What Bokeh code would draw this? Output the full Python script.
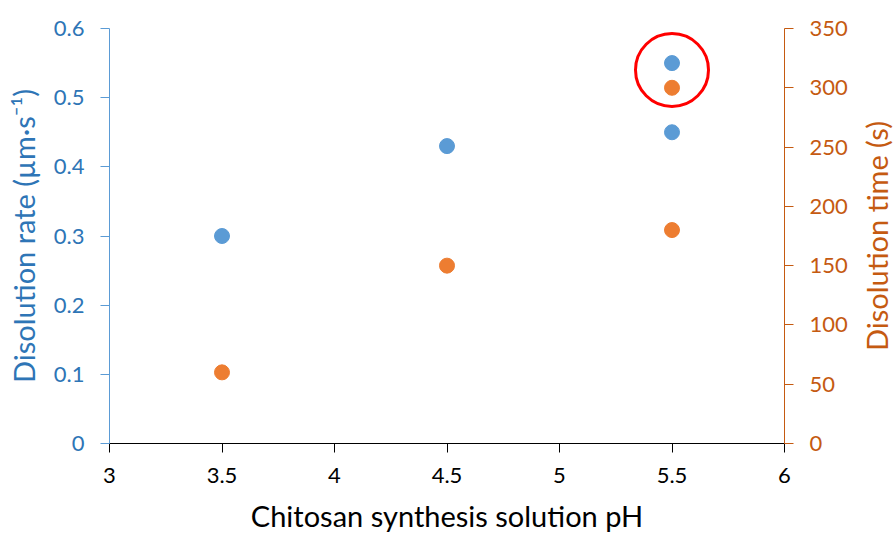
from math import pi
from bokeh.plotting import figure
from bokeh.models import Range1d, LinearAxis, FixedTicker, Label
from bokeh.layouts import row
from bokeh.embed import file_html
from bokeh.resources import INLINE

# data
ph_rate = [3.5, 4.5, 5.5, 5.5]
rate = [0.30, 0.43, 0.55, 0.45]
ph_time = [3.5, 4.5, 5.5, 5.5]
time_s = [60, 150, 300, 180]
highlight_x = [5.5]
highlight_y = [0.54]

x_ticks = [3, 3.5, 4, 4.5, 5, 5.5, 6]
left_ticks = [0, 0.1, 0.2, 0.3, 0.4, 0.5, 0.6]
right_ticks = [0, 50, 100, 150, 200, 250, 300, 350]

FONT = "Lato"
TICK_FS = "22px"
LABEL_FS = "29px"
BLUE = "#5B9BD5"
BLUE_T = "#2E75B6"
ORANGE = "#ED7D31"
ORANGE_T = "#C55A11"

p = figure(width=858, height=535, output_backend="svg", toolbar_location=None,
           x_range=Range1d(3, 6), y_range=Range1d(0, 0.6),
           min_border_left=109, min_border_right=74, min_border_top=28, min_border_bottom=92)
p.outline_line_color = None
p.xgrid.visible = False
p.ygrid.visible = False
p.extra_y_ranges = {"right": Range1d(0, 350)}

p.scatter(ph_rate, rate, size=15, color=BLUE)
p.scatter(ph_time, time_s, size=15, color=ORANGE, y_range_name="right")
p.scatter(highlight_x, highlight_y, size=73, fill_color=None, line_color="red", line_width=3)

xa = p.xaxis[0]
xa.ticker = FixedTicker(ticks=x_ticks)
xa.axis_label = "Chitosan synthesis solution pH"
xa.axis_line_color = "black"
xa.major_tick_line_color = "black"
xa.major_tick_in = 0
xa.major_tick_out = 9
xa.minor_tick_line_color = None
xa.major_label_text_font = FONT
xa.major_label_text_font_size = TICK_FS
xa.major_label_text_color = "black"
xa.major_label_standoff = 15
xa.axis_label_text_font = FONT
xa.axis_label_text_font_size = LABEL_FS
xa.axis_label_text_font_style = "normal"
xa.axis_label_text_color = "black"
xa.axis_label_standoff = 12

ya = p.yaxis[0]
ya.ticker = FixedTicker(ticks=left_ticks)
ya.axis_label = "Disolution rate (µm·s⁻¹)"
ya.axis_line_color = BLUE
ya.major_tick_line_color = BLUE
ya.major_tick_in = 0
ya.major_tick_out = 9
ya.minor_tick_line_color = None
ya.major_label_text_font = FONT
ya.major_label_text_font_size = TICK_FS
ya.major_label_text_color = BLUE_T
ya.major_label_standoff = 16
ya.axis_label_text_font = FONT
ya.axis_label_text_font_size = LABEL_FS
ya.axis_label_text_font_style = "normal"
ya.axis_label_text_color = BLUE_T
ya.axis_label_standoff = 10

ra = LinearAxis(y_range_name="right", ticker=FixedTicker(ticks=right_ticks))
ra.axis_line_color = ORANGE_T
ra.major_tick_line_color = ORANGE_T
ra.major_tick_in = 0
ra.major_tick_out = 9
ra.minor_tick_line_color = None
ra.major_label_text_font = FONT
ra.major_label_text_font_size = TICK_FS
ra.major_label_text_color = ORANGE_T
ra.major_label_standoff = 16
p.add_layout(ra, "right")

# narrow strip holding the right axis title (reads bottom to top)
q = figure(width=35, height=535, output_backend="svg", toolbar_location=None,
           x_range=Range1d(0, 1), y_range=Range1d(0, 1),
           x_axis_location=None, y_axis_location=None,
           min_border=0, min_border_left=0, min_border_right=0,
           min_border_top=0, min_border_bottom=0)
q.outline_line_color = None
q.xgrid.visible = False
q.ygrid.visible = False
q.add_layout(Label(x=0.5, y=0.5, angle=pi / 2, text="Disolution time (s)",
                   text_align="center", text_baseline="middle",
                   text_font=FONT, text_font_size=LABEL_FS, text_color=ORANGE_T))

open("out.html", "w").write(file_html(row(p, q), INLINE))
